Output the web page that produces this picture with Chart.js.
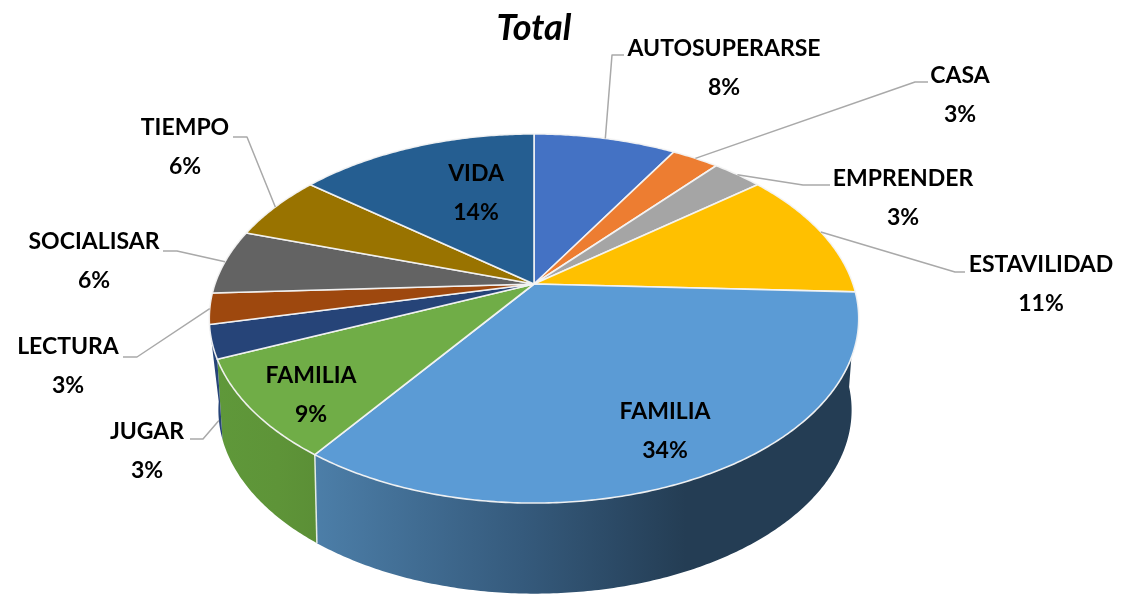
<!DOCTYPE html>
<html>
<head>
<meta charset="utf-8">
<style>html,body{margin:0;padding:0;background:#fff}canvas{display:block;filter:blur(.45px)}</style>
<script src="https://cdn.jsdelivr.net/npm/chart.js@4"></script>
</head>
<body>
<canvas id="c" width="1132" height="594"></canvas>
<script>
const categories = ["AUTOSUPERARSE","CASA","EMPRENDER","ESTAVILIDAD","FAMILIA","FAMILIA","JUGAR","LECTURA","SOCIALISAR","TIEMPO","VIDA"];
const values = [8.5,2.8,3.0,11.4,34.2,8.7,2.9,2.7,5.7,5.8,14.3];
const percentLabels = ["8%","3%","3%","11%","34%","9%","3%","3%","6%","6%","14%"];
const sliceColors = ["#4472c4","#ed7d31","#a5a5a5","#ffc000","#5b9bd5","#70ad47","#264478","#9e480e","#636363","#997300","#255e91"];

// Presentation only: where each callout's text sits, and the elbow of its leader
const labelCentres = [[724,49],[960,76],[903,179],[1041,265],[665,412],[311,376],[147,432],[68,347],[94,242],[185,128],[476,174]];
const leaderElbows = [[[612,55],[624,55]],[[915,82],[928,82]],[[803,185],[830,185]],[[955,272],[965,272]],null,null,[[203,439],[190,439]],[[137,357],[123,357]],[[177,251],[163,251]],[[247,137],[233,137]],null];
const WALL_LEADER = 6; // JUGAR's leader lands on the wall, not on the top face
const LINE_GAP = 38.5, LABEL_FONT = 'bold 23px Lato';

// Perspective of the pie's top face and of its lower rim
const P = {cx:534, cy:284, k:319, a:125, c:-0.187};
const LOW = {cx:535, cy:410, topCy:318.5, sx:0.975, sy:0.995, skew:6*Math.PI/180};
const SIDE_FROM = 0.52*Math.PI, SIDE_TO = 1.43*Math.PI;

function topPt(theta, r){
  const u=Math.sin(theta)*r, v=-Math.cos(theta)*r, d=1+P.c*v;
  return [P.cx+P.k*u/d, (P.a*v+P.cy)/d];
}
function lowPt(theta){
  const t=Math.max(0,(theta-Math.PI)/(Math.PI/2));
  const p=topPt(theta+LOW.skew*t*t,1);
  return [LOW.cx+(p[0]-P.cx)*LOW.sx, LOW.cy+(p[1]-LOW.topCy)*LOW.sy];
}
function sample(a,b,fn){
  const n=Math.max(2,Math.ceil(Math.abs(b-a)/0.01)),o=[];
  for(let i=0;i<=n;i++) o.push(fn(a+(b-a)*i/n));
  return o;
}
function trace(ctx,pts,first){
  pts.forEach((p,i)=>{ if(i===0&&first) ctx.moveTo(p[0],p[1]); else ctx.lineTo(p[0],p[1]); });
}

const pie3d = {
  id:'pie3d',
  beforeDatasetDraw(){ return false; },
  afterDatasetsDraw(chart){
    const ctx=chart.ctx, arcs=chart.getDatasetMeta(0).data;
    const th=i=>[arcs[i].startAngle+Math.PI/2, arcs[i].endAngle+Math.PI/2];
    ctx.save();
    ctx.lineJoin='round';

    const blue=ctx.createLinearGradient(316,0,860,0);
    blue.addColorStop(0,'#4c7ea8');
    blue.addColorStop(0.38,'#355a7c');
    blue.addColorStop(0.68,'#243d54');
    blue.addColorStop(1,'#243d54');
    const green=ctx.createLinearGradient(217,0,318,0);
    green.addColorStop(0,'#5f983a');
    green.addColorStop(0.6,'#5e9438');
    green.addColorStop(1,'#5b8f36');
    const sideFill={4:blue,5:green,6:'#264478'};

    arcs.forEach((_,i)=>{
      const [s,e]=th(i), a=Math.max(s,SIDE_FROM), b=Math.min(e,SIDE_TO);
      if(b<=a) return;
      ctx.beginPath();
      trace(ctx,sample(a,b,t=>topPt(t,1)),true);
      trace(ctx,sample(b,a,lowPt),false);
      ctx.closePath();
      ctx.fillStyle=sideFill[i]||sliceColors[i];
      ctx.fill();
    });
    // seam between the blue and green walls
    const seam=th(4)[1], s0=topPt(seam,1), s1=lowPt(seam);
    ctx.strokeStyle='rgba(235,240,235,.95)'; ctx.lineWidth=1.5;
    ctx.beginPath(); ctx.moveTo(s0[0],s0[1]); ctx.lineTo(s1[0],s1[1]); ctx.stroke();

    arcs.forEach((_,i)=>{
      const [s,e]=th(i);
      ctx.beginPath();
      ctx.moveTo(P.cx,P.cy);
      trace(ctx,sample(s,e,t=>topPt(t,1)),false);
      ctx.closePath();
      ctx.fillStyle=sliceColors[i];
      ctx.fill();
      ctx.strokeStyle='rgba(244,244,244,.95)'; ctx.lineWidth=1.6;
      ctx.stroke();
    });

    // leaders
    ctx.strokeStyle='#a9a9a9'; ctx.lineWidth=1.5;
    arcs.forEach((_,i)=>{
      if(!leaderElbows[i]) return;
      const [s,e]=th(i), p=i===WALL_LEADER?lowPt((s+e)/2):topPt((s+e)/2,1);
      ctx.beginPath(); ctx.moveTo(p[0],p[1]);
      leaderElbows[i].forEach(q=>ctx.lineTo(q[0],q[1]));
      ctx.stroke();
    });

    // texts
    ctx.fillStyle='#000'; ctx.font=LABEL_FONT; ctx.textAlign='center'; ctx.textBaseline='middle';
    categories.forEach((name,i)=>{
      const [x,y]=labelCentres[i];
      ctx.fillText(name,x,y);
      ctx.fillText(percentLabels[i],x,y+LINE_GAP);
    });
    ctx.restore();
  }
};

new Chart(document.getElementById('c'),{
  type:'pie',
  data:{labels:categories,datasets:[{data:values,backgroundColor:sliceColors,borderColor:'#fff',borderWidth:1}]},
  options:{
    responsive:false,
    animation:false,
    layout:{padding:{right:64}},
    plugins:{
      legend:{display:false},
      tooltip:{enabled:false},
      title:{display:true,text:'Total',color:'#000',font:{family:'Lato',size:36,weight:'bold',style:'italic'},padding:{top:7,bottom:4}}
    }
  },
  plugins:[pie3d]
});
</script>
</body>
</html>
